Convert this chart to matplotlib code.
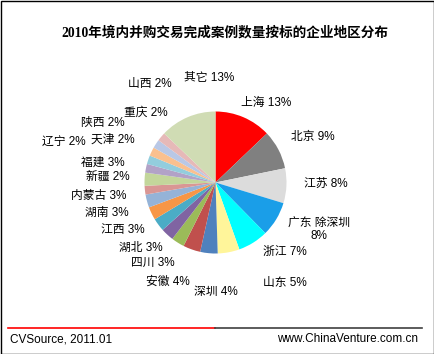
import matplotlib
matplotlib.use("Agg")
import matplotlib.pyplot as plt
from matplotlib.lines import Line2D
from matplotlib.patches import Rectangle

W, H = 435, 354

title = "2010年境内并购交易完成案例数量按标的企业地区分布"
regions = ["上海", "北京", "江苏", "广东除深圳", "浙江", "山东", "深圳", "安徽", "四川",
           "湖北", "江西", "湖南", "内蒙古", "新疆", "福建", "辽宁", "天津", "陕西",
           "重庆", "山西", "其它"]
shares = [13, 9, 8, 8, 7, 5, 4, 4, 3, 3, 3, 3, 3, 2, 3, 2, 2, 2, 2, 2, 13]
source_text = "CVSource, 2011.01"
site_text = "www.ChinaVenture.com.cn"

colors = ["#ff0000", "#808080", "#dcdcdc", "#1a9ee8", "#00ffff", "#fff59a", "#4f81bd",
          "#c0504d", "#9bbb59", "#8064a2", "#4bacc6", "#f79646", "#95b3d7", "#d99694",
          "#c3d69b", "#b2a2c7", "#93cddd", "#fac08f", "#b9c8e6", "#e6b9b8", "#d0dcb4"]

# label centres in pixel coordinates (x from left, y from top)
label_pos = [(266, 103), (313, 137), (326, 184), (319, 230), (285, 252), (285, 283),
             (216, 292), (168, 282), (153, 263), (141, 248), (123, 230), (107, 213),
             (99, 196), (108, 177), (103, 163), (64, 142), (113, 140), (103, 123),
             (146, 113), (150, 84), (209, 78)]

plt.rcParams['font.family'] = ['Liberation Sans', 'Noto Sans CJK SC', 'DejaVu Sans']

fig = plt.figure(figsize=(W / 100, H / 100), dpi=100)
fig.patch.set_facecolor("white")

def fx(x):
    return x / W

def fy(y):
    return 1 - y / H

# pie
cx, cy, r = 215.5, 182.5, 71
ax = fig.add_axes([fx(cx - r), fy(cy + r), 2 * r / W, 2 * r / H])
ax.pie(shares, colors=colors, startangle=90, counterclock=False,
       wedgeprops=dict(linewidth=0))
ax.set_xlim(-1, 1)
ax.set_ylim(-1, 1)
ax.axis("off")

# title
fig.text(fx(225), fy(33), title, ha="center", va="center", fontsize=9.8,
         fontweight="bold", family=['Liberation Serif', 'Noto Sans CJK SC'])

# labels
for name, val, (x, y) in zip(regions, shares, label_pos):
    if name == "广东除深圳":
        txt = "广东 除深圳\n%d%%" % val
        fig.text(fx(x), fy(y), txt, ha="center", va="center", fontsize=8.5,
                 linespacing=1.05)
    else:
        fig.text(fx(x), fy(y), "%s %d%%" % (name, val), ha="center", va="center",
                 fontsize=8.5)

# footer line
fig.add_artist(Line2D([fx(8), fx(215)], [fy(327.5), fy(327.5)], color="#ff0000", lw=1.2))
fig.add_artist(Line2D([fx(215), fx(422)], [fy(327.5), fy(327.5)], color="#404040", lw=1.2))
fig.text(fx(10), fy(339), source_text, ha="left", va="center", fontsize=8.5)
fig.text(fx(418), fy(339), site_text, ha="right", va="center", fontsize=8.5)

# border
fig.add_artist(Rectangle((0.5 / W, 0.5 / H), 1 - 1.5 / W, 1 - 1.5 / H, fill=False,
                         edgecolor="black", lw=1, transform=fig.transFigure))

fig.savefig("out.png", dpi=100)
